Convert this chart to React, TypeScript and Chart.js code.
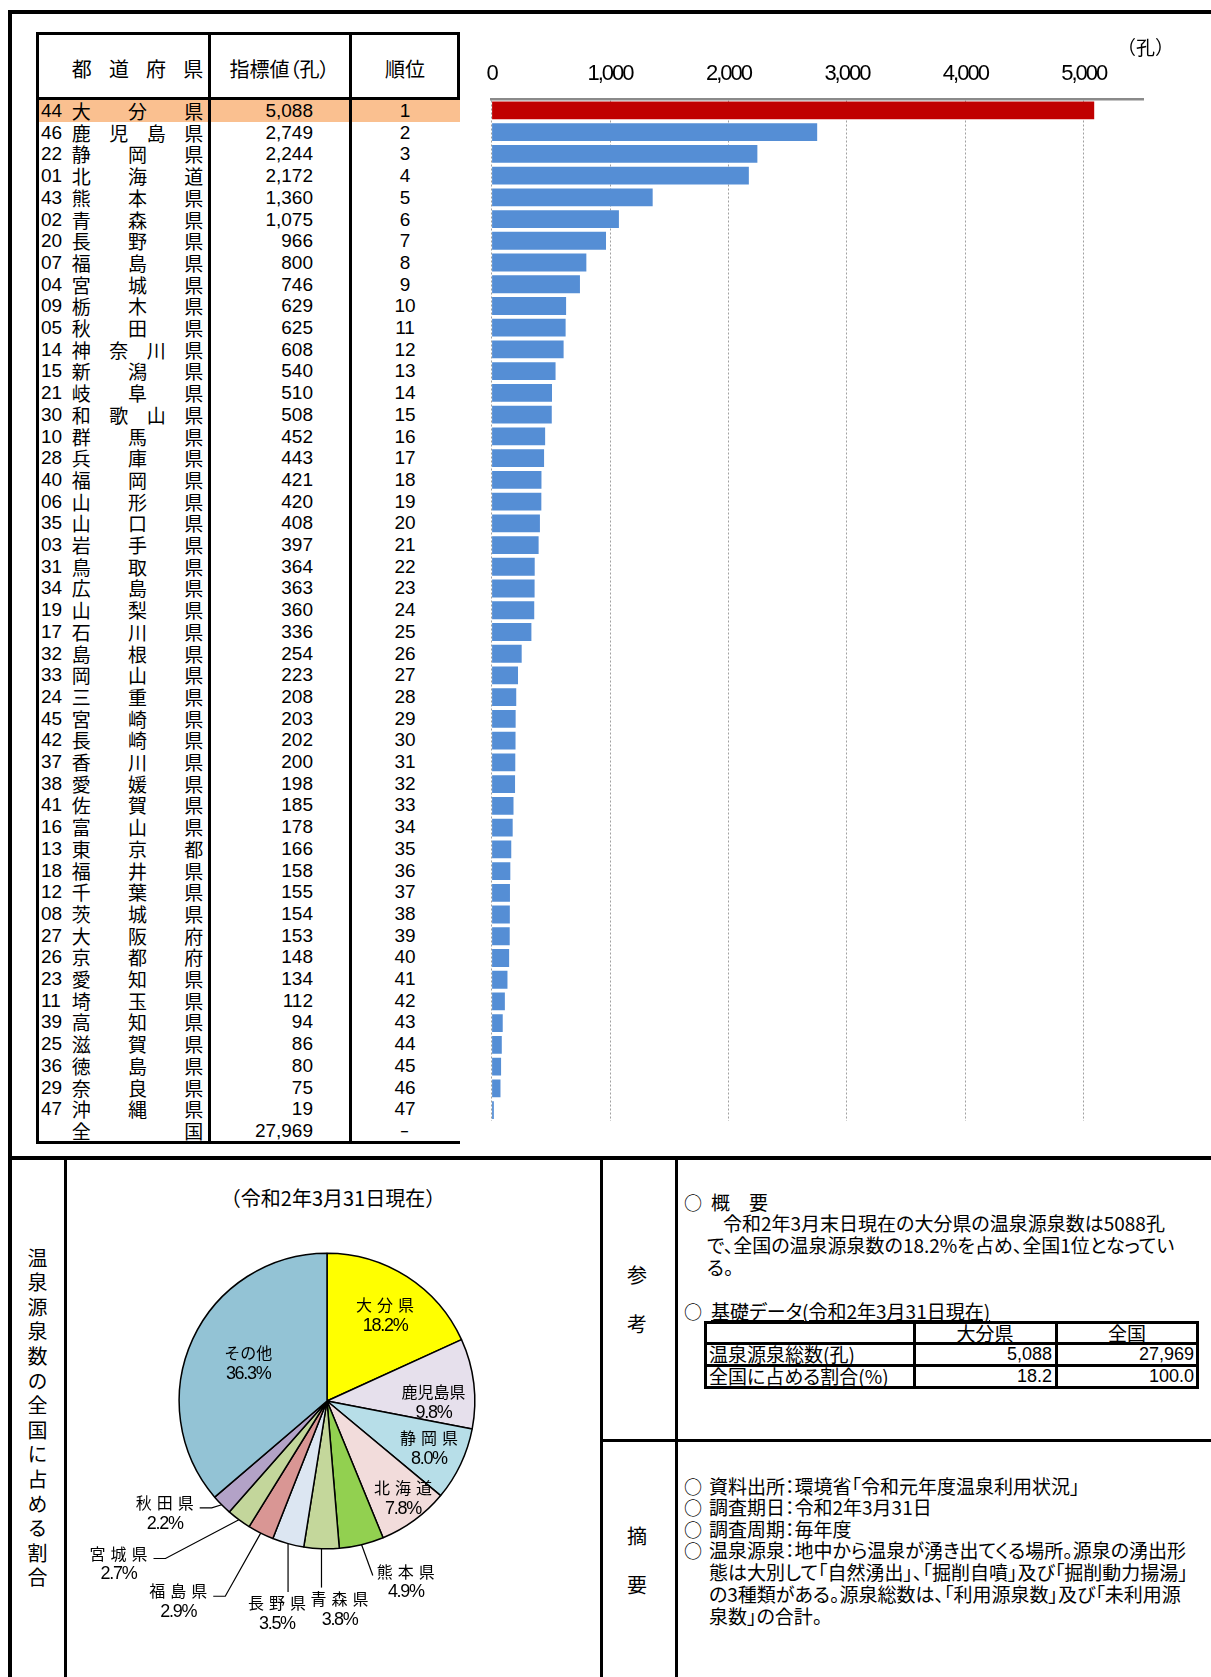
import React, { useEffect, useRef } from 'react';
import { Chart, registerables } from 'chart.js';
Chart.register(...registerables);

const CJK = '"Noto Sans CJK JP", "Noto Sans CJK SC", sans-serif';
const NUM = '"Liberation Sans", Arial, "Noto Sans CJK JP", sans-serif';

// ---------- data ----------
const PREF_CODES = ['44','46','22','01','43','02','20','07','04','09','05','14','15','21','30','10','28','40','06','35','03','31','34','19','17','32','33','24','45','42','37','38','41','16','13','18','12','08','27','26','23','11','39','25','36','29','47'];
const PREF_NAMES = ['大分県','鹿児島県','静岡県','北海道','熊本県','青森県','長野県','福島県','宮城県','栃木県','秋田県','神奈川県','新潟県','岐阜県','和歌山県','群馬県','兵庫県','福岡県','山形県','山口県','岩手県','鳥取県','広島県','山梨県','石川県','島根県','岡山県','三重県','宮崎県','長崎県','香川県','愛媛県','佐賀県','富山県','東京都','福井県','千葉県','茨城県','大阪府','京都府','愛知県','埼玉県','高知県','滋賀県','徳島県','奈良県','沖縄県'];
const VALUES = [5088,2749,2244,2172,1360,1075,966,800,746,629,625,608,540,510,508,452,443,421,420,408,397,364,363,360,336,254,223,208,203,202,200,198,185,178,166,158,155,154,153,148,134,112,94,86,80,75,19];
const RANKS = ['1','2','3','4','5','6','7','8','9','10','11','12','13','14','15','16','17','18','19','20','21','22','23','24','25','26','27','28','29','30','31','32','33','34','35','36','37','38','39','40','41','42','43','44','45','46','47'];
const TOTAL_NAME = '全国';
const TOTAL_VALUE = '27,969';
const TOTAL_RANK = '－';

const X_TICKS = [0, 1000, 2000, 3000, 4000, 5000];
const X_TICK_LABELS = ['0', '1,000', '2,000', '3,000', '4,000', '5,000'];
const X_MAX = 5500;

const PIE_LABELS = ['大分県','鹿児島県','静岡県','北海道','熊本県','青森県','長野県','福島県','宮城県','秋田県','その他'];
const PIE_VALUES = [5088,2749,2244,2172,1360,1075,966,800,746,625,10144];
const PIE_PCT = ['18.2%','9.8%','8.0%','7.8%','4.9%','3.8%','3.5%','2.9%','2.7%','2.2%','36.3%'];

// ---------- styles ----------
const BAR_BLUE = '#558ED5';
const BAR_RED = '#C00000';
const ROW_HL = '#FAC090';
const PIE_COLORS = ['#FFFF00','#E6E0EC','#B7DEE8','#F2DCDB','#92D050','#C4D79B','#DCE6F2','#D99694','#C3D69B','#B3A2C7','#93C3D5'];
const PIE_LABEL_R = [0.70,0.72,0.76,0.835,1.335,1.41,1.476,1.69,1.79,1.335,0.59];
const PIE_LABEL_SHIFT = [1.4,7.5,-0.4,-1.7,-10,-5.6,-2,9.9,15.4,9.9,0.6];
const PIE_LEADER = ['none','none','none','none','right','bottom','bottom','left','left','left','none'];
const PIE_NAME_SPACING = [5,0,5,5,5,5,5,5,5,5,0];

const ROW_TOP = 100;
const ROW_H = 21.7;

const Line = ({ x, y, w, h }: { x: number; y: number; w: number; h: number }) => (
  <div style={{ position: 'absolute', left: x, top: y, width: w, height: h, background: '#000' }} />
);

const T = ({ x, cy, size = 18, children, family = CJK, lh = 22, style = {} }: any) => (
  <div
    style={{
      position: 'absolute',
      left: x,
      top: cy - lh / 2,
      height: lh,
      lineHeight: lh + 'px',
      fontSize: size,
      fontFamily: family,
      whiteSpace: 'nowrap',
      color: '#000',
      ...style,
    }}
  >
    {children}
  </div>
);

const Spread = ({ text, x, w, cy, size, lh }: any) => (
  <div
    style={{
      position: 'absolute',
      left: x,
      width: w,
      top: cy - lh / 2,
      height: lh,
      lineHeight: lh + 'px',
      fontSize: size,
      fontFamily: CJK,
      display: 'flex',
      justifyContent: 'space-between',
      whiteSpace: 'nowrap',
    }}
  >
    {Array.from(text as string).map((c, i) => (
      <span key={i}>{c}</span>
    ))}
  </div>
);

const narrowTicks = {
  id: 'narrowTicks',
  beforeDraw(chart: any) {
    (chart.ctx as any).letterSpacing = '-2px';
  },
  afterDraw(chart: any) {
    (chart.ctx as any).letterSpacing = '0px';
  },
};

function BarChart() {
  const ref = useRef<HTMLCanvasElement>(null);
  useEffect(() => {
    const chart = new Chart(ref.current as HTMLCanvasElement, {
      type: 'bar',
      data: {
        labels: PREF_NAMES,
        datasets: [
          {
            data: VALUES,
            backgroundColor: VALUES.map((_, i) => (i === 0 ? BAR_RED : BAR_BLUE)),
            borderWidth: 0,
            categoryPercentage: 1,
            barPercentage: 0.82,
          },
        ],
      },
      options: {
        indexAxis: 'y',
        responsive: false,
        animation: false,
        layout: { padding: { left: 31.6, right: 68, top: 0, bottom: 4 } },
        plugins: { legend: { display: false }, tooltip: { enabled: false } },
        scales: {
          x: {
            position: 'top',
            min: 0,
            max: X_MAX,
            afterBuildTicks: (s: any) => {
              s.ticks = X_TICKS.map((v) => ({ value: v }));
            },
            afterFit: (s: any) => {
              s.height = 69.5;
            },
            ticks: {
              callback: (_v: any, i: number) => X_TICK_LABELS[i],
              font: { family: NUM, size: 22 },
              color: '#000',
              padding: 12,
              maxRotation: 0,
              autoSkip: false,
            },
            grid: { color: '#a0a0a0', lineWidth: 1, drawTicks: false, borderDash: [2, 2] } as any,
            border: { display: true, color: '#8a8a8a', width: 2.5, dash: [2, 2] },
          },
          y: { display: false },
        },
      } as any,
      plugins: [narrowTicks as any],
    });
    return () => chart.destroy();
  }, []);
  return (
    <canvas ref={ref} width={751} height={1095} style={{ position: 'absolute', left: 460, top: 30, width: 751, height: 1095 }} />
  );
}

const pieLabelPlugin = {
  id: 'pieLabels',
  afterDatasetsDraw(chart: any) {
    const ctx = chart.ctx as CanvasRenderingContext2D;
    const meta = chart.getDatasetMeta(0);
    meta.data.forEach((arc: any, i: number) => {
      const { x, y, startAngle, endAngle, outerRadius } = arc.getProps(['x', 'y', 'startAngle', 'endAngle', 'outerRadius'], true);
      const mid = (startAngle + endAngle) / 2;
      const a = mid + (PIE_LABEL_SHIFT[i] * Math.PI) / 180;
      const f = PIE_LABEL_R[i];
      const cx = x + Math.cos(a) * outerRadius * f;
      const cy = y + Math.sin(a) * outerRadius * f;
      const nameY = cy - 10.5;
      const pctY = cy + 10.5;
      ctx.save();
      ctx.fillStyle = '#000';
      ctx.textBaseline = 'middle';
      ctx.textAlign = 'left';
      ctx.font = `16px ${CJK}`;
      (ctx as any).letterSpacing = `${PIE_NAME_SPACING[i]}px`;
      const nameW = ctx.measureText(PIE_LABELS[i]).width - PIE_NAME_SPACING[i];
      ctx.fillText(PIE_LABELS[i], cx - nameW / 2, nameY);
      ctx.font = `18px ${NUM}`;
      (ctx as any).letterSpacing = '-1.3px';
      const pw = ctx.measureText(PIE_PCT[i]).width;
      ctx.fillText(PIE_PCT[i], cx - pw / 2, pctY);
      (ctx as any).letterSpacing = '0px';
      const sx = x + Math.cos(mid) * outerRadius;
      const sy = y + Math.sin(mid) * outerRadius;
      ctx.strokeStyle = '#000';
      ctx.lineWidth = 1.2;
      const kind = PIE_LEADER[i];
      if (kind !== 'none') {
        ctx.beginPath();
        ctx.moveTo(sx, sy);
        if (kind === 'right') {
          ctx.lineTo(cx - nameW / 2 - 4, nameY + 4);
        } else if (kind === 'bottom') {
          ctx.lineTo(sx, nameY - 11);
        } else {
          ctx.lineTo(cx + nameW / 2 + 18, nameY + 5);
          ctx.lineTo(cx + nameW / 2 + 6, nameY + 5);
        }
        ctx.stroke();
      }
      ctx.restore();
    });
  },
};

function PieChart() {
  const ref = useRef<HTMLCanvasElement>(null);
  useEffect(() => {
    const chart = new Chart(ref.current as HTMLCanvasElement, {
      type: 'pie',
      data: {
        labels: PIE_LABELS,
        datasets: [{ data: PIE_VALUES, backgroundColor: PIE_COLORS, borderColor: '#000', borderWidth: 1.5 }],
      },
      options: {
        responsive: false,
        animation: false,
        layout: { padding: { left: 108.4, right: 114.4, top: 12.4, bottom: 110.4 } },
        plugins: { legend: { display: false }, tooltip: { enabled: false } },
      } as any,
      plugins: [pieLabelPlugin as any],
    });
    return () => chart.destroy();
  }, []);
  return (
    <canvas ref={ref} width={520} height={420} style={{ position: 'absolute', left: 70, top: 1240, width: 520, height: 420 }} />
  );
}

function Table() {
  const rows: any[] = [];
  PREF_NAMES.forEach((name, i) => {
    const cy = ROW_TOP + i * ROW_H + ROW_H / 2;
    rows.push(
      <React.Fragment key={i}>
        <T x={41} cy={cy} size={19} family={NUM} lh={ROW_H}>{PREF_CODES[i]}</T>
        <Spread text={name} x={71.7} w={131.6} cy={cy} size={19} lh={ROW_H} />
        <T x={210} cy={cy} size={19} family={NUM} lh={ROW_H} style={{ width: 103, textAlign: 'right' }}>
          {VALUES[i].toLocaleString('en-US')}
        </T>
        <T x={352} cy={cy} size={19} family={NUM} lh={ROW_H} style={{ width: 106, textAlign: 'center' }}>
          {RANKS[i]}
        </T>
      </React.Fragment>
    );
  });
  const ty = ROW_TOP + PREF_NAMES.length * ROW_H + ROW_H / 2;
  return (
    <>
      <div style={{ position: 'absolute', left: 39, top: ROW_TOP, width: 421, height: ROW_H, background: ROW_HL }} />
      <Spread text="都道府県" x={71.7} w={131.6} cy={69} size={20} lh={26} />
      <T x={210} cy={69} size={20} lh={26} style={{ width: 139, textAlign: 'center', fontFeatureSettings: '"palt"' }}>
        指標値（孔）
      </T>
      <T x={352} cy={69} size={20} lh={26} style={{ width: 106, textAlign: 'center' }}>
        順位
      </T>
      {rows}
      <Spread text={TOTAL_NAME} x={71.7} w={131.6} cy={ty} size={19} lh={ROW_H} />
      <T x={210} cy={ty} size={19} family={NUM} lh={ROW_H} style={{ width: 103, textAlign: 'right' }}>
        {TOTAL_VALUE}
      </T>
      <T x={352} cy={ty} size={19} family={CJK} lh={ROW_H} style={{ width: 106, textAlign: 'center' }}>
        <span style={{ display: 'inline-block', transform: 'scaleX(0.5)' }}>{TOTAL_RANK}</span>
      </T>
      <Line x={36} y={32} w={424} h={3} />
      <Line x={36} y={97} w={424} h={3} />
      <Line x={36} y={32} w={3} h={1112} />
      <Line x={36} y={1141} w={424} h={3} />
      <Line x={207.5} y={32} w={3} h={1112} />
      <Line x={349} y={32} w={3} h={1112} />
      <Line x={457} y={32} w={3} h={68} />
    </>
  );
}

function RightPanel() {
  const P = { fontFeatureSettings: '"palt"' };
  const FS = 19;
  const circ = (cy: number) => (
    <T x={684} cy={cy} size={18}>○</T>
  );
  return (
    <>
      <T x={627} cy={1275} size={20}>参</T>
      <T x={627} cy={1324} size={20}>考</T>
      <T x={627} cy={1536} size={20}>摘</T>
      <T x={627} cy={1585} size={20}>要</T>

      {circ(1202)}
      <T x={711} cy={1202} size={FS}>概　要</T>
      <T x={723} cy={1222.5} size={FS} style={P}>令和2年3月末日現在の大分県の温泉源泉数は5088孔</T>
      <T x={707} cy={1245} size={FS} style={P}>で、全国の温泉源泉数の18.2%を占め、全国1位となってい</T>
      <T x={707} cy={1267} size={FS} style={P}>る。</T>
      {circ(1311)}
      <T x={711} cy={1311} size={FS} style={{ ...P, textDecoration: 'underline' }}>基礎データ(令和2年3月31日現在)</T>

      <Line x={704} y={1320.5} w={495} h={3} />
      <Line x={704} y={1342} w={495} h={3} />
      <Line x={704} y={1363.5} w={495} h={3} />
      <Line x={704} y={1385.5} w={495} h={3} />
      <Line x={704} y={1320.5} w={3} h={68} />
      <Line x={912.5} y={1320.5} w={3} h={68} />
      <Line x={1055} y={1320.5} w={3} h={68} />
      <Line x={1196} y={1320.5} w={3} h={68} />
      <T x={915} cy={1332.5} size={FS} style={{ width: 140, textAlign: 'center' }}>大分県</T>
      <T x={1058} cy={1332.5} size={FS} style={{ width: 138, textAlign: 'center' }}>全国</T>
      <T x={709} cy={1354} size={FS} style={P}>温泉源泉総数(孔)</T>
      <T x={915} cy={1354} size={18} family={NUM} style={{ width: 137, textAlign: 'right' }}>5,088</T>
      <T x={1058} cy={1354} size={18} family={NUM} style={{ width: 136, textAlign: 'right' }}>27,969</T>
      <T x={709} cy={1376} size={FS} style={P}>全国に占める割合(%)</T>
      <T x={915} cy={1376} size={18} family={NUM} style={{ width: 137, textAlign: 'right' }}>18.2</T>
      <T x={1058} cy={1376} size={18} family={NUM} style={{ width: 136, textAlign: 'right' }}>100.0</T>

      {circ(1485.6)}
      <T x={709} cy={1485.6} size={FS} style={P}>資料出所：環境省「令和元年度温泉利用状況」</T>
      {circ(1507)}
      <T x={709} cy={1507} size={FS} style={P}>調査期日：令和2年3月31日</T>
      {circ(1529)}
      <T x={709} cy={1529} size={FS} style={P}>調査周期：毎年度</T>
      {circ(1550)}
      <T x={709} cy={1550} size={FS} style={P}>温泉源泉：地中から温泉が湧き出てくる場所。源泉の湧出形</T>
      <T x={709} cy={1572} size={FS} style={P}>態は大別して「自然湧出」、「掘削自噴」及び「掘削動力揚湯」</T>
      <T x={709} cy={1594} size={FS} style={P}>の3種類がある。源泉総数は、「利用源泉数」及び「未利用源</T>
      <T x={709} cy={1616} size={FS} style={P}>泉数」の合計。</T>
    </>
  );
}

export default function App() {
  return (
    <div
      style={{
        position: 'absolute',
        left: 0,
        top: 0,
        width: 1211,
        height: 1677,
        overflow: 'hidden',
        background: '#fff',
        fontFamily: CJK,
      }}
    >
      <Table />
      <BarChart />
      <T x={1117} cy={46.5} size={19}>（孔）</T>

      <Line x={8} y={10} w={1203} h={4} />
      <Line x={8} y={10} w={4} h={1667} />
      <Line x={8} y={1156} w={1203} h={4} />
      <Line x={64} y={1158} w={3} h={519} />
      <Line x={600} y={1158} w={3} h={519} />
      <Line x={675} y={1158} w={3} h={519} />
      <Line x={600} y={1439} w={611} h={3} />

      <div
        style={{
          position: 'absolute',
          left: 27,
          top: 1248,
          writingMode: 'vertical-rl',
          fontSize: 20,
          letterSpacing: '4.6px',
          lineHeight: '21px',
          fontFamily: CJK,
          whiteSpace: 'nowrap',
        }}
      >
        温泉源泉数の全国に占める割合
      </div>

      <T x={66} cy={1198} size={20} style={{ width: 534, textAlign: 'center' }}>（令和2年3月31日現在）</T>
      <PieChart />
      <RightPanel />
    </div>
  );
}
